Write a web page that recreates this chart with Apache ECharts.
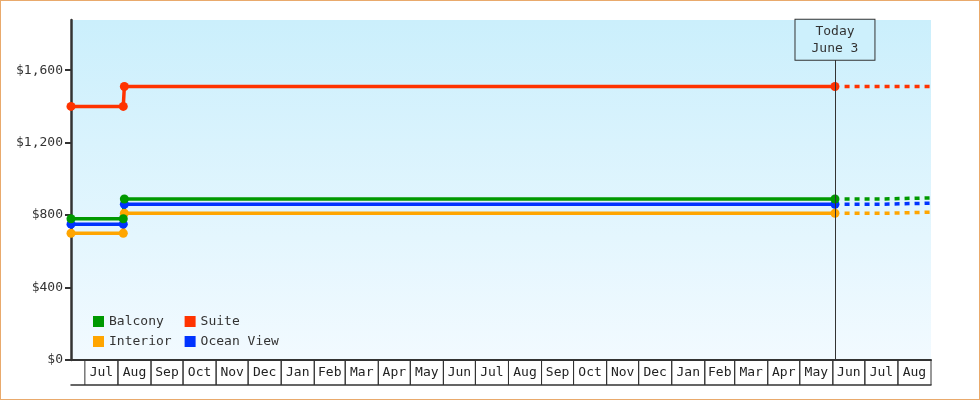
<!DOCTYPE html>
<html>
<head>
<meta charset="utf-8">
<script src="https://cdn.jsdelivr.net/npm/echarts@6/dist/echarts.min.js"></script>
<style>
  body { margin: 0; background: #fff; }
  #wrap { position: relative; width: 980px; height: 400px; }
  #chart { position: absolute; left: 0; top: 0; width: 980px; height: 400px; }
  #frame { position: absolute; left: 0; top: 0; width: 980px; height: 400px; box-sizing: border-box; border: 1px solid #e9aa6c; pointer-events: none; }
</style>
</head>
<body>
<div id="wrap">
  <div id="chart"></div>
  <div id="frame"></div>
</div>
<script>
// price history per cabin type (date, price)
const interiorData = [['2023-06-18', 700], ['2023-08-06', 700], ['2023-08-07', 810], ['2025-06-03', 810]];
const oceanViewData = [['2023-06-18', 750], ['2023-08-06', 750], ['2023-08-07', 860], ['2025-06-03', 860]];
const balconyData = [['2023-06-18', 780], ['2023-08-06', 780], ['2023-08-07', 889], ['2025-06-03', 889]];
const suiteData = [['2023-06-18', 1400], ['2023-08-06', 1400], ['2023-08-07', 1510], ['2025-06-03', 1510]];

// projected prices after today
const interiorProj = [['2025-06-12', 810], ['2025-07-18', 810], ['2025-07-19', 816], ['2025-09-01', 816]];
const oceanViewProj = [['2025-06-12', 860], ['2025-07-18', 860], ['2025-07-19', 866], ['2025-09-01', 866]];
const balconyProj = [['2025-06-12', 889], ['2025-07-18', 889], ['2025-07-19', 895], ['2025-09-01', 895]];
const suiteProj = [['2025-06-12', 1510], ['2025-09-01', 1510]];

const today = '2025-06-03';
const todayLabel = 'Today\nJune 3';

const monthLabels = ['Jul', 'Aug', 'Sep', 'Oct', 'Nov', 'Dec', 'Jan', 'Feb', 'Mar', 'Apr', 'May', 'Jun',
    'Jul', 'Aug', 'Sep', 'Oct', 'Nov', 'Dec', 'Jan', 'Feb', 'Mar', 'Apr', 'May', 'Jun', 'Jul', 'Aug'];
const monthStarts = ['2023-07-01', '2023-08-01', '2023-09-01', '2023-10-01', '2023-11-01', '2023-12-01',
    '2024-01-01', '2024-02-01', '2024-03-01', '2024-04-01', '2024-05-01', '2024-06-01',
    '2024-07-01', '2024-08-01', '2024-09-01', '2024-10-01', '2024-11-01', '2024-12-01',
    '2025-01-01', '2025-02-01', '2025-03-01', '2025-04-01', '2025-05-01', '2025-06-01',
    '2025-07-01', '2025-08-01', '2025-09-01'];

const yTicks = [0, 400, 800, 1200, 1600];

const FONT = 'DejaVu Sans Mono';
const colors = {
    'Balcony': '#009900',
    'Suite': '#ff3300',
    'Interior': '#ffa500',
    'Ocean View': '#0033ff'
};

window.onload = function () {
    const chart = echarts.init(document.getElementById('chart'));

    const monthCells = [];
    for (let i = 0; i < monthLabels.length; i++) {
        monthCells.push([monthStarts[i], monthStarts[i + 1], 0]);
    }

    function priceLine(name, data) {
        return {
            name: name,
            type: 'line',
            data: data,
            color: colors[name],
            symbol: 'circle',
            symbolSize: 9,
            lineStyle: {width: 3.5},
            animation: false
        };
    }

    function projLine(name, data) {
        return {
            name: name,
            type: 'line',
            data: data,
            color: colors[name],
            showSymbol: false,
            lineStyle: {width: 3.5, type: [5, 5], cap: 'butt'},
            animation: false
        };
    }

    const suite = priceLine('Suite', suiteData);
    suite.markLine = {
        silent: true,
        symbol: 'none',
        animation: false,
        lineStyle: {color: '#333', width: 1, type: 'solid'},
        label: {
            show: true,
            position: 'end',
            distance: 0,
            formatter: todayLabel,
            fontFamily: FONT,
            fontSize: 13,
            lineHeight: 17,
            color: '#333',
            backgroundColor: '#cdf0fc',
            borderColor: '#333',
            borderWidth: 1,
            padding: [3, 16, 3, 16]
        },
        data: [[{coord: [today, 0]}, {coord: [today, 1657]}]]
    };

    const option = {
        textStyle: {fontFamily: FONT},
        grid: {
            left: 71, right: 49, top: 20, bottom: 40,
            show: true,
            borderWidth: 0,
            backgroundColor: new echarts.graphic.LinearGradient(0, 0, 0, 1, [
                {offset: 0, color: '#cbeffc'},
                {offset: 1, color: '#f2faff'}
            ])
        },
        legend: [
            {
                data: ['Balcony', 'Suite'],
                left: 88, top: 310,
                icon: 'rect', itemWidth: 11, itemHeight: 11, itemGap: 13,
                formatter: n => n.padEnd(8, ' '),
                textStyle: {fontFamily: FONT, fontSize: 13, color: '#333'}
            },
            {
                data: ['Interior', 'Ocean View'],
                left: 88, top: 330,
                icon: 'rect', itemWidth: 11, itemHeight: 11, itemGap: 13,
                formatter: n => n.padEnd(8, ' '),
                textStyle: {fontFamily: FONT, fontSize: 13, color: '#333'}
            }
        ],
        xAxis: [
            {
                type: 'time',
                min: '2023-06-18',
                max: '2025-09-01',
                axisLine: {show: true, lineStyle: {color: '#333', width: 2}},
                axisTick: {show: false},
                axisLabel: {show: false},
                splitLine: {show: false}
            },
            {
                type: 'time',
                min: '2023-06-18',
                max: '2025-09-01',
                position: 'bottom',
                offset: 25,
                axisLine: {show: true, lineStyle: {color: '#333', width: 1.5}},
                axisTick: {show: false},
                axisLabel: {show: false},
                splitLine: {show: false}
            }
        ],
        yAxis: {
            type: 'value',
            min: 0,
            max: 1877,
            interval: 400,
            axisLine: {show: true, lineStyle: {color: '#333', width: 2.5}},
            axisTick: {show: true, length: 6, lineStyle: {color: '#333', width: 2}, customValues: yTicks},
            axisLabel: {
                customValues: yTicks,
                margin: 8,
                fontFamily: FONT,
                fontSize: 13,
                color: '#333',
                formatter: v => '$' + v.toLocaleString('en-US')
            },
            splitLine: {show: false}
        },
        series: [
            priceLine('Interior', interiorData),
            priceLine('Ocean View', oceanViewData),
            priceLine('Balcony', balconyData),
            suite,
            projLine('Interior', interiorProj),
            projLine('Ocean View', oceanViewProj),
            projLine('Balcony', balconyProj),
            projLine('Suite', suiteProj),
            {
                name: 'months',
                type: 'custom',
                silent: true,
                animation: false,
                data: monthCells,
                encode: {x: [0, 1], y: 2},
                renderItem: function (params, api) {
                    const s = api.coord([api.value(0), 0]);
                    const e = api.coord([api.value(1), 0]);
                    return {
                        type: 'group',
                        children: [
                            {type: 'line', shape: {x1: s[0], y1: s[1], x2: s[0], y2: s[1] + 25}, style: {stroke: '#333', lineWidth: 1}},
                            {type: 'line', shape: {x1: e[0], y1: s[1], x2: e[0], y2: s[1] + 25}, style: {stroke: '#333', lineWidth: 1}},
                            {
                                type: 'text',
                                style: {
                                    text: monthLabels[params.dataIndex],
                                    x: (s[0] + e[0]) / 2,
                                    y: s[1] + 13,
                                    align: 'center',
                                    verticalAlign: 'middle',
                                    font: '13px "DejaVu Sans Mono"',
                                    fill: '#222'
                                }
                            }
                        ]
                    };
                }
            }
        ]
    };

    chart.setOption(option);
};
</script>
</body>
</html>
